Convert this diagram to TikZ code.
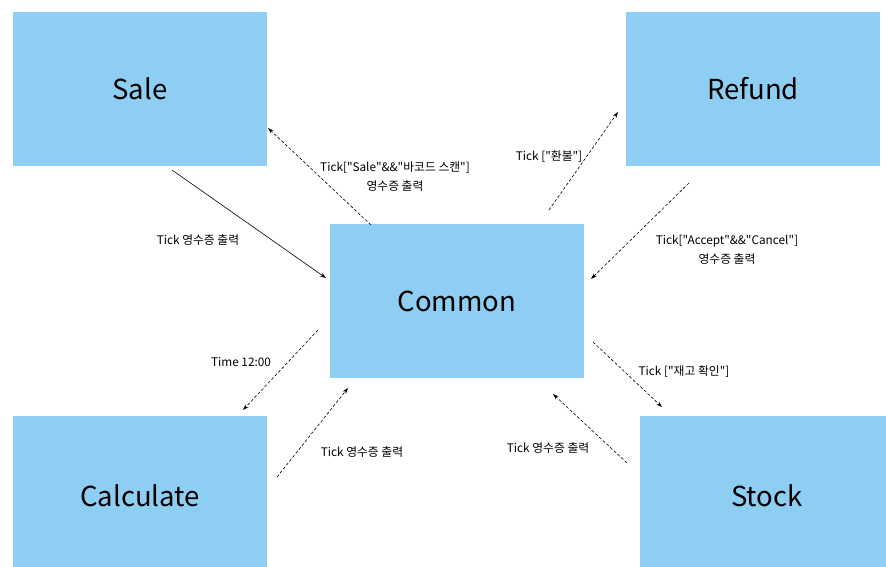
\documentclass[tikz,border=0pt]{standalone}
\usepackage{fontspec}
\setmainfont{Noto Sans CJK KR}[Ligatures=TeXOff]
\usetikzlibrary{arrows.meta}
\definecolor{boxblue}{RGB}{142,206,242}
\tikzset{
  module/.style={fill=boxblue, minimum width=254pt, minimum height=154pt, inner sep=0pt, font=\fontsize{27.5}{30}\selectfont},
  msg/.style={font=\fontsize{11.8}{19}\selectfont, align=center, inner sep=1pt},
  call/.style={semithick, -{Stealth[length=6pt,width=4pt]}},
  reply/.style={semithick, dash pattern=on 3pt off 2pt, -{Stealth[length=6pt,width=4pt]}}
}
\begin{document}
\begin{tikzpicture}[x=1pt,y=-1pt]
	  \useasboundingbox (0,0) rectangle (886,566);

	  \node [module] (sale) at (140,89) {Sale};
	  \node [module] (refund) at (753,89) {Refund};
	  \node [module] (common) at (457,301) {Common};
	  \node [module, minimum height=160pt] (calc) at (140,496) {Calculate};
	  \node [module, minimum height=160pt] (stock) at (767,496) {Stock};

	  \coordinate (saleout) at (172,170);
	  \coordinate (commonsale) at (326,278);
	  \coordinate (commonup) at (371,225);
	  \coordinate (salein) at (268,128);
	  \coordinate (commonref) at (549,210);
	  \coordinate (refundin) at (618,112);
	  \coordinate (refundout) at (689,183);
	  \coordinate (commonrefin) at (591,279);
	  \coordinate (commoncalc) at (318,330);
	  \coordinate (calcin) at (243,410);
	  \coordinate (calcout) at (277,477);
	  \coordinate (commoncalcin) at (348,388);
	  \coordinate (commonstock) at (593,342);
	  \coordinate (stockin) at (662,407);
	  \coordinate (stockout) at (627,463);
	  \coordinate (commonstockin) at (553,394);

	  \draw [call] (saleout)--(commonsale);
	  \draw [reply] (commonup)--(salein);
	  \draw [reply] (commonref)--(refundin);
	  \draw [reply] (refundout)--(commonrefin);
	  \draw [reply] (commoncalc)--(calcin);
	  \draw [reply] (calcout)--(commoncalcin);
	  \draw [reply] (commonstock)--(stockin);
	  \draw [reply] (stockout)--(commonstockin);

	  \node [msg] (salemsg) at (198,240) {Tick 영수증 출력};
	  \node [msg] (scanmsg) at (395,177) {Tick["Sale"\&\&"바코드 스캔"]\\영수증 출력};
	  \node [msg] (refmsg) at (549,157) {Tick ["환불"]};
	  \node [msg] (accmsg) at (727,250) {Tick["Accept"\&\&"Cancel"]\\영수증 출력};
	  \node [msg] (timemsg) at (241,362) {Time 12:00};
	  \node [msg] (calcmsg) at (362,452) {Tick 영수증 출력};
	  \node [msg] (stockmsg) at (684,372) {Tick ["재고 확인"]};
	  \node [msg] (stockret) at (548,448) {Tick 영수증 출력};
	\end{tikzpicture}
\end{document}
